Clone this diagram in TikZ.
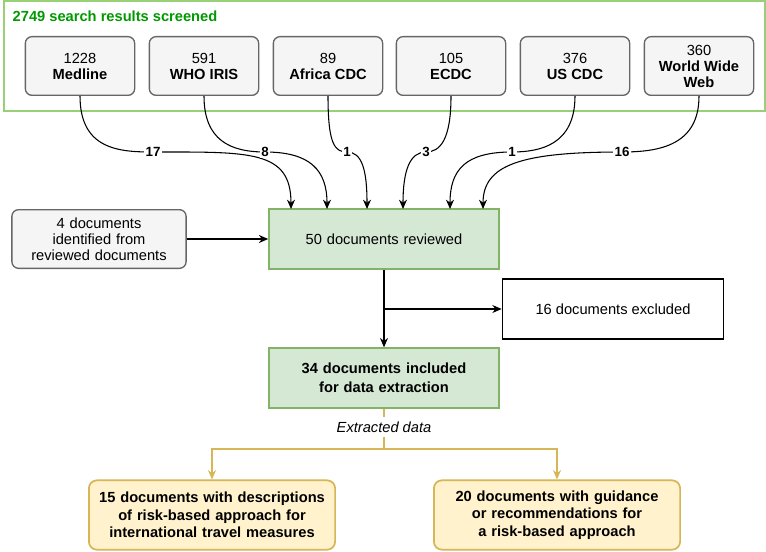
\documentclass[tikz,border=0pt]{standalone}
\usepackage{fontspec}
\setmainfont{Liberation Sans}
\usetikzlibrary{arrows.meta,positioning}
\definecolor{grnline}{HTML}{97D077}
\definecolor{grntxt}{HTML}{009900}
\definecolor{revfill}{HTML}{D5E8D4}
\definecolor{revline}{HTML}{82B366}
\definecolor{ylwfill}{HTML}{FFF2CC}
\definecolor{ylwline}{HTML}{D6B656}
\hyphenpenalty=10000
\exhyphenpenalty=10000
\tikzset{
  source/.style={rectangle, rounded corners=5pt, draw=black!60, fill=black!4, line width=1pt,
    minimum width=82pt, minimum height=44pt, align=center, font=\fontsize{11}{12}\selectfont},
  green/.style={rectangle, draw=revline, fill=revfill, line width=1pt,
    minimum width=172pt, minimum height=45pt, align=center, text width=166pt, font=\fontsize{11}{14}\selectfont},
  result/.style={rectangle, rounded corners=6pt, draw=ylwline, fill=ylwfill, line width=1.3pt,
    minimum width=184pt, minimum height=52pt, align=center, text width=178pt, font=\bfseries\fontsize{11}{13}\selectfont},
  line/.style={draw, line width=0.8pt, -{Stealth[length=7pt,width=6pt]}},
  cnt/.style={fill=white, inner sep=1pt, font=\bfseries\fontsize{10}{12}\selectfont}
}
\begin{document}
\begin{tikzpicture}[x=0.75pt, y=-0.75pt]
    \useasboundingbox (0,0) rectangle (766,552);
    % Search frame
    \draw [grnline, line width=1.3pt] (4,1) rectangle (765,111);
    \node [anchor=west, text=grntxt, font=\bfseries\fontsize{11}{13}\selectfont] (title) at (8,16) {2749 search results screened};
    % Place nodes
    \node [source] (medline) at (80,66) {1228\\\textbf{Medline}};
    \node [source] (who) at (204,66) {591\\\textbf{WHO IRIS}};
    \node [source] (africa) at (328,66) {89\\\textbf{Africa CDC}};
    \node [source] (ecdc) at (451,66) {105\\\textbf{ECDC}};
    \node [source] (uscdc) at (575,66) {376\\\textbf{US CDC}};
    \node [source] (www) at (699,66) {360\\\textbf{World Wide}\\\textbf{Web}};
    \node [green] (reviewed) at (384,239) {50 documents reviewed};
    \node [source, minimum width=128pt, text width=124pt] (other) at (99,239) {4 documents identified from reviewed documents};
    \node [rectangle, draw, line width=1pt, minimum width=166pt, minimum height=45pt, font=\fontsize{11}{13}\selectfont] (excluded) at (613,309) {16 documents excluded};
    \node [green, font=\bfseries\fontsize{11}{14}\selectfont] (included) at (384,378) {34 documents included for data extraction};
    \node [font=\itshape\fontsize{11}{13}\selectfont] (extracted) at (384,427) {Extracted data};
    \node [result] (descr) at (212,515) {15 documents with descriptions of risk-based approach for international travel measures};
    \node [result] (guide) at (557,515) {20 documents with guidance or recommendations for a risk-based approach};
    % Entry points
    \coordinate (in1) at (291,209);
    \coordinate (in2) at (327,209);
    \coordinate (in3) at (367,209);
    \coordinate (in4) at (403,209);
    \coordinate (in5) at (450,209);
    \coordinate (in6) at (483,209);
    \coordinate (split) at (384,309);
    \coordinate (fork) at (384,449);
    % Draw edges
    \path [line] (medline.south) .. controls (80,150) and (120,152) .. (153,152) node [cnt] {17} .. controls (250,152) and (291,150) .. (in1);
    \path [line] (who.south) .. controls (204,140) and (230,152) .. (265,152) node [cnt] {8} .. controls (310,152) and (327,170) .. (in2);
    \path [line] (africa.south) .. controls (328,145) and (335,152) .. (347,152) node [cnt] {1} .. controls (362,152) and (367,170) .. (in3);
    \path [line] (ecdc.south) .. controls (451,140) and (440,152) .. (426,152) node [cnt] {3} .. controls (410,152) and (403,170) .. (in4);
    \path [line] (uscdc.south) .. controls (575,145) and (540,152) .. (512,152) node [cnt] {1} .. controls (465,152) and (450,170) .. (in5);
    \path [line] (www.south) .. controls (699,145) and (660,152) .. (622,152) node [cnt] {16} .. controls (520,152) and (483,165) .. (in6);
    \path [line] (other) -- (reviewed);
    \path [line] (reviewed) -- (included);
    \path [line] (split) -- (excluded);
    \draw [ylwline, line width=1.5pt] (included) -- (extracted);
    \draw [ylwline, line width=1.5pt] (extracted) -- (fork);
    \path [line, draw=ylwline, line width=1.5pt] (fork) -| (descr);
    \path [line, draw=ylwline, line width=1.5pt] (fork) -| (guide);
\end{tikzpicture}
\end{document}
